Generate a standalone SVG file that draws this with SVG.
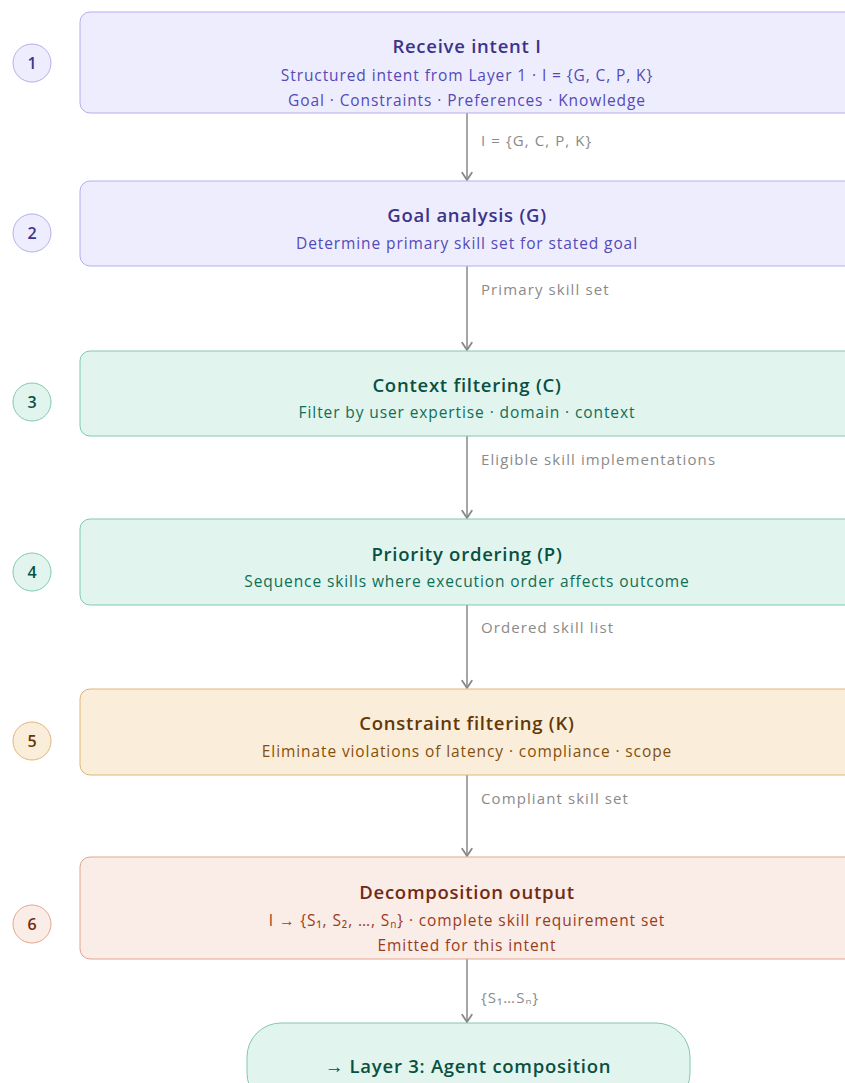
<svg xmlns="http://www.w3.org/2000/svg" width="845" height="1083" viewBox="0 0 845 1083">
<defs>
<style>
text{font-family:"Open Sans","Noto Sans","Liberation Sans",sans-serif;text-anchor:middle;dominant-baseline:central}
.t{font-size:18.5px;font-weight:600;letter-spacing:0.75px}
.s{font-size:15.5px;letter-spacing:0.9px}
.n{font-size:16px;font-weight:600}
.lbl{font-size:15px;fill:#8a8a8a;text-anchor:start;letter-spacing:1.1px}
.pur rect,.pur circle{fill:#EEEDFE;stroke:#B3ADEE}
.pur .t,.pur .n{fill:#3C3489}.pur .s{fill:#534AB7}
.tea rect,.tea circle{fill:#E1F5EE;stroke:#7FC9AE}
.tea .t,.tea .n{fill:#085041}.tea .s{fill:#0F6E56}
.amb rect,.amb circle{fill:#FAEEDA;stroke:#DDB679}
.amb .t,.amb .n{fill:#633806}.amb .s{fill:#854F0B}
.cor rect,.cor circle{fill:#FAECE7;stroke:#E3A58E}
.cor .t,.cor .n{fill:#712B13}.cor .s{fill:#993C1D}
.edge{stroke:#888;stroke-width:1.5;fill:none}
</style>
<marker id="ah" viewBox="0 0 10 10" refX="8" refY="5" markerWidth="8" markerHeight="8" orient="auto-start-reverse">
<path d="M2 1L8 5L2 9" fill="none" stroke="#888" stroke-width="1.5" stroke-linecap="round" stroke-linejoin="round"/>
</marker>
</defs>
<rect width="845" height="1083" fill="#fff"/>
<g id="connectors">
<line class="edge" x1="467" y1="113" x2="467" y2="180" marker-end="url(#ah)"/>
<text class="lbl" x="481" y="140">I = {G, C, P, K}</text>
<line class="edge" x1="467" y1="266" x2="467" y2="350" marker-end="url(#ah)"/>
<text class="lbl" x="481" y="289">Primary skill set</text>
<line class="edge" x1="467" y1="436" x2="467" y2="518" marker-end="url(#ah)"/>
<text class="lbl" x="481" y="459">Eligible skill implementations</text>
<line class="edge" x1="467" y1="605" x2="467" y2="688" marker-end="url(#ah)"/>
<text class="lbl" x="481" y="627">Ordered skill list</text>
<line class="edge" x1="467" y1="775" x2="467" y2="856" marker-end="url(#ah)"/>
<text class="lbl" x="481" y="798">Compliant skill set</text>
<line class="edge" x1="467" y1="959" x2="467" y2="1022" marker-end="url(#ah)"/>
<text class="lbl" x="481" y="997">{S₁…Sₙ}</text>
</g>
<g id="step1" class="pur">
<circle cx="32" cy="63" r="19"/><text class="n" x="32" y="63">1</text>
<rect x="80" y="12" width="776" height="101" rx="10"/>
<text class="t" x="467" y="45">Receive intent I</text>
<text class="s" x="467" y="75">Structured intent from Layer 1 · I = {G, C, P, K}</text>
<text class="s" x="467" y="100">Goal · Constraints · Preferences · Knowledge</text>
</g>
<g id="step2" class="pur">
<circle cx="32" cy="233" r="19"/><text class="n" x="32" y="233">2</text>
<rect x="80" y="181" width="776" height="85" rx="10"/>
<text class="t" x="467" y="214">Goal analysis (G)</text>
<text class="s" x="467" y="243">Determine primary skill set for stated goal</text>
</g>
<g id="step3" class="tea">
<circle cx="32" cy="402" r="19"/><text class="n" x="32" y="402">3</text>
<rect x="80" y="351" width="776" height="85" rx="10"/>
<text class="t" x="467" y="384">Context filtering (C)</text>
<text class="s" x="467" y="412">Filter by user expertise · domain · context</text>
</g>
<g id="step4" class="tea">
<circle cx="32" cy="572" r="19"/><text class="n" x="32" y="572">4</text>
<rect x="80" y="519" width="776" height="86" rx="10"/>
<text class="t" x="467" y="553">Priority ordering (P)</text>
<text class="s" x="467" y="581">Sequence skills where execution order affects outcome</text>
</g>
<g id="step5" class="amb">
<circle cx="32" cy="741" r="19"/><text class="n" x="32" y="741">5</text>
<rect x="80" y="689" width="776" height="86" rx="10"/>
<text class="t" x="467" y="722">Constraint filtering (K)</text>
<text class="s" x="467" y="751">Eliminate violations of latency · compliance · scope</text>
</g>
<g id="step6" class="cor">
<circle cx="32" cy="924" r="19"/><text class="n" x="32" y="924">6</text>
<rect x="80" y="857" width="776" height="102" rx="10"/>
<text class="t" x="467" y="891">Decomposition output</text>
<text class="s" x="467" y="920">I → {S₁, S₂, …, Sₙ} · complete skill requirement set</text>
<text class="s" x="467" y="945">Emitted for this intent</text>
</g>
<g id="output" class="tea">
<rect x="247" y="1023" width="443" height="84" rx="34"/>
<text class="t" x="468" y="1065">→ Layer 3: Agent composition</text>
</g>
</svg>
